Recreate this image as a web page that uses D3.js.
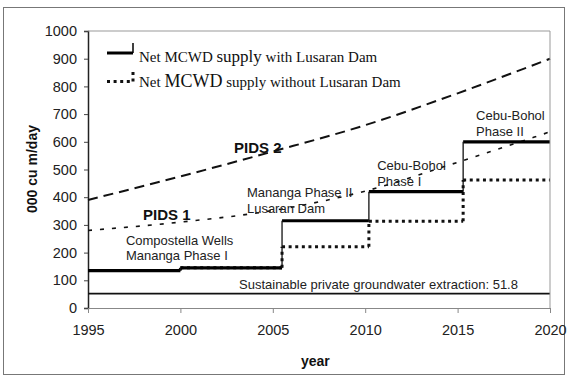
<!DOCTYPE html>
<html><head><meta charset="utf-8">
<script src="https://cdn.jsdelivr.net/npm/d3@7"></script>
<style>body{margin:0;background:#fff}svg{display:block}</style>
</head><body>
<script>
// ---- data ----
const pidsYears = [1995, 2000, 2005, 2010, 2015, 2020];
const pids2 = [390, 475, 565, 660, 775, 900];
const pids1 = [280, 310, 352, 422, 526, 636];
const stepYears = [1995, 2000, 2005.5, 2010.2, 2015.3, 2020];
const withDam = [135, 145, 315, 420, 600];
const withoutDam = [135, 145, 221, 313, 462];
const groundwater = 51.8;
const xTicks = [1995, 2000, 2005, 2010, 2015, 2020];
const yTicks = [0, 100, 200, 300, 400, 500, 600, 700, 800, 900, 1000];
const labels = [
  {lines: ["Compostella Wells", "Mananga Phase I"], year: 1997.05, value: 229},
  {lines: ["Mananga Phase II", "Lusaran Dam"], year: 2003.6, value: 400},
  {lines: ["Cebu-Bohol", "Phase I"], year: 2010.65, value: 497},
  {lines: ["Cebu-Bohol", "Phase II"], year: 2016.0, value: 677}
];

const W = 570, H = 379;
const m = {left: 88, top: 31, right: 20, bottom: 71};
const svg = d3.select("body").append("svg").attr("width", W).attr("height", H);
const x = d3.scaleLinear().domain([1995, 2020]).range([m.left, W - m.right]);
const y = d3.scaleLinear().domain([0, 1000]).range([H - m.bottom, m.top]);

svg.append("clipPath").attr("id", "plotclip").append("rect")
  .attr("x", 0).attr("y", 0).attr("width", x(2020) + 1).attr("height", H);

// outer frame
svg.append("rect").attr("x", 3.5).attr("y", 7.5).attr("width", 561).attr("height", 367)
  .attr("fill", "none").attr("stroke", "#777").attr("stroke-width", 1);

const font = "Arial, 'Liberation Sans', sans-serif";

// axes
const yAxis = svg.append("g").attr("transform", `translate(${x(1995)},0)`)
  .call(d3.axisLeft(y).tickValues(yTicks).tickSize(4).tickPadding(7).tickFormat(d3.format("d")));
yAxis.select(".domain").attr("stroke", "#222").attr("stroke-width", 1.5);
yAxis.selectAll("line").attr("stroke", "#444");
yAxis.selectAll("text").attr("font-family", font).attr("font-size", 14.5).attr("fill", "#222");

const xAxis = svg.append("g").attr("transform", `translate(0,${y(0)})`)
  .call(d3.axisBottom(x).tickValues(xTicks).tickSize(5).tickPadding(12).tickFormat(d3.format("d")));
xAxis.select(".domain").attr("stroke", "#888").attr("stroke-width", 1);
xAxis.selectAll("line").attr("stroke", "#888");
xAxis.selectAll("text").attr("font-family", font).attr("font-size", 14.5).attr("fill", "#222");

svg.append("text").attr("x", x(2007.3)).attr("y", 366).attr("text-anchor", "middle")
  .attr("font-family", font).attr("font-weight", "bold").attr("font-size", 14).attr("fill", "#111").text("year");
svg.append("text").attr("transform", `translate(37,169) rotate(-90)`).attr("text-anchor", "middle")
  .attr("font-family", font).attr("font-weight", "bold").attr("font-size", 14).attr("fill", "#111").text("000 cu m/day");

// groundwater line
svg.append("line").attr("x1", x(1995)).attr("x2", x(2020)).attr("y1", y(groundwater)).attr("y2", y(groundwater))
  .attr("stroke", "#111").attr("stroke-width", 1.6);
svg.append("text").attr("x", 239).attr("y", y(groundwater) - 5)
  .attr("font-family", font).attr("font-size", 13).attr("fill", "#222")
  .text("Sustainable private groundwater extraction: " + groundwater);

// PIDS curves
const curve = d3.line().x((d, i) => x(pidsYears[i])).y(d => y(d)).curve(d3.curveMonotoneX);
svg.append("path").attr("d", curve(pids2)).attr("fill", "none").attr("stroke", "#111")
  .attr("stroke-width", 2).attr("stroke-dasharray", "10,6");
svg.append("path").attr("d", curve(pids1)).attr("fill", "none").attr("stroke", "#111")
  .attr("stroke-width", 1.6).attr("stroke-dasharray", "4,8");

// step series
function steps(vals) {
  const h = [], v = [];
  vals.forEach((val, i) => {
    h.push([[stepYears[i], val], [stepYears[i + 1], val]]);
    if (i > 0) v.push([[stepYears[i], vals[i - 1]], [stepYears[i], val]]);
  });
  return {h, v};
}
const seg = d3.line().x(d => x(d[0])).y(d => y(d[1]));
const wo = steps(withoutDam);
[...wo.h, ...wo.v].forEach(s => svg.append("path").attr("d", seg(s)).attr("fill", "none")
  .attr("stroke", "#111").attr("stroke-width", 3).attr("stroke-dasharray", "3,3.6"));
const wd = steps(withDam);
wd.h.forEach(s => svg.append("path").attr("d", seg(s)).attr("stroke", "#000").attr("stroke-width", 3.2));
wd.v.forEach(s => svg.append("path").attr("d", seg(s)).attr("stroke", "#111").attr("stroke-width", 1.3));

// annotations
labels.forEach(l => {
  const t = svg.append("text").attr("font-family", font).attr("font-size", 13).attr("fill", "#222")
    .attr("clip-path", "url(#plotclip)");
  l.lines.forEach((ln, i) => t.append("tspan").attr("x", x(l.year)).attr("y", y(l.value) + i * 15.5).text(ln));
});
svg.append("text").attr("x", 234).attr("y", 153).attr("font-family", font).attr("font-weight", "bold")
  .attr("font-size", 15).attr("fill", "#111").text("PIDS 2");
svg.append("text").attr("x", 143).attr("y", 220).attr("font-family", font).attr("font-weight", "bold")
  .attr("font-size", 15).attr("fill", "#111").text("PIDS 1");

// plot frame (top/right)
svg.append("path")
  .attr("d", `M${x(1995)},${y(1000)}H${x(2020)}V${y(0)}`)
  .attr("fill", "none").attr("stroke", "#999").attr("stroke-width", 1);

// legend
const serif = "'Times New Roman', 'Liberation Serif', serif";
svg.append("path").attr("d", "M107,53H133").attr("stroke", "#000").attr("stroke-width", 3);
svg.append("path").attr("d", "M133,53V43").attr("stroke", "#000").attr("stroke-width", 1.5);
svg.append("path").attr("d", "M107,81.5H133").attr("stroke", "#111").attr("stroke-width", 3).attr("stroke-dasharray", "3,3.6");
svg.append("path").attr("d", "M133,81.5V71").attr("stroke", "#111").attr("stroke-width", 3).attr("stroke-dasharray", "3,3.6");
const l1 = svg.append("text").attr("x", 139).attr("y", 62).attr("font-family", serif).attr("fill", "#111");
l1.append("tspan").attr("font-size", 15).text("Net MCWD ");
l1.append("tspan").attr("font-size", 17).text("supply");
l1.append("tspan").attr("font-size", 15).text(" with Lusaran Dam");
const l2 = svg.append("text").attr("x", 139).attr("y", 87).attr("font-family", serif).attr("fill", "#111");
l2.append("tspan").attr("font-size", 15).text("Net ");
l2.append("tspan").attr("font-size", 18).text("MCWD");
l2.append("tspan").attr("font-size", 15).text(" supply without Lusaran Dam");
</script>
</body></html>
